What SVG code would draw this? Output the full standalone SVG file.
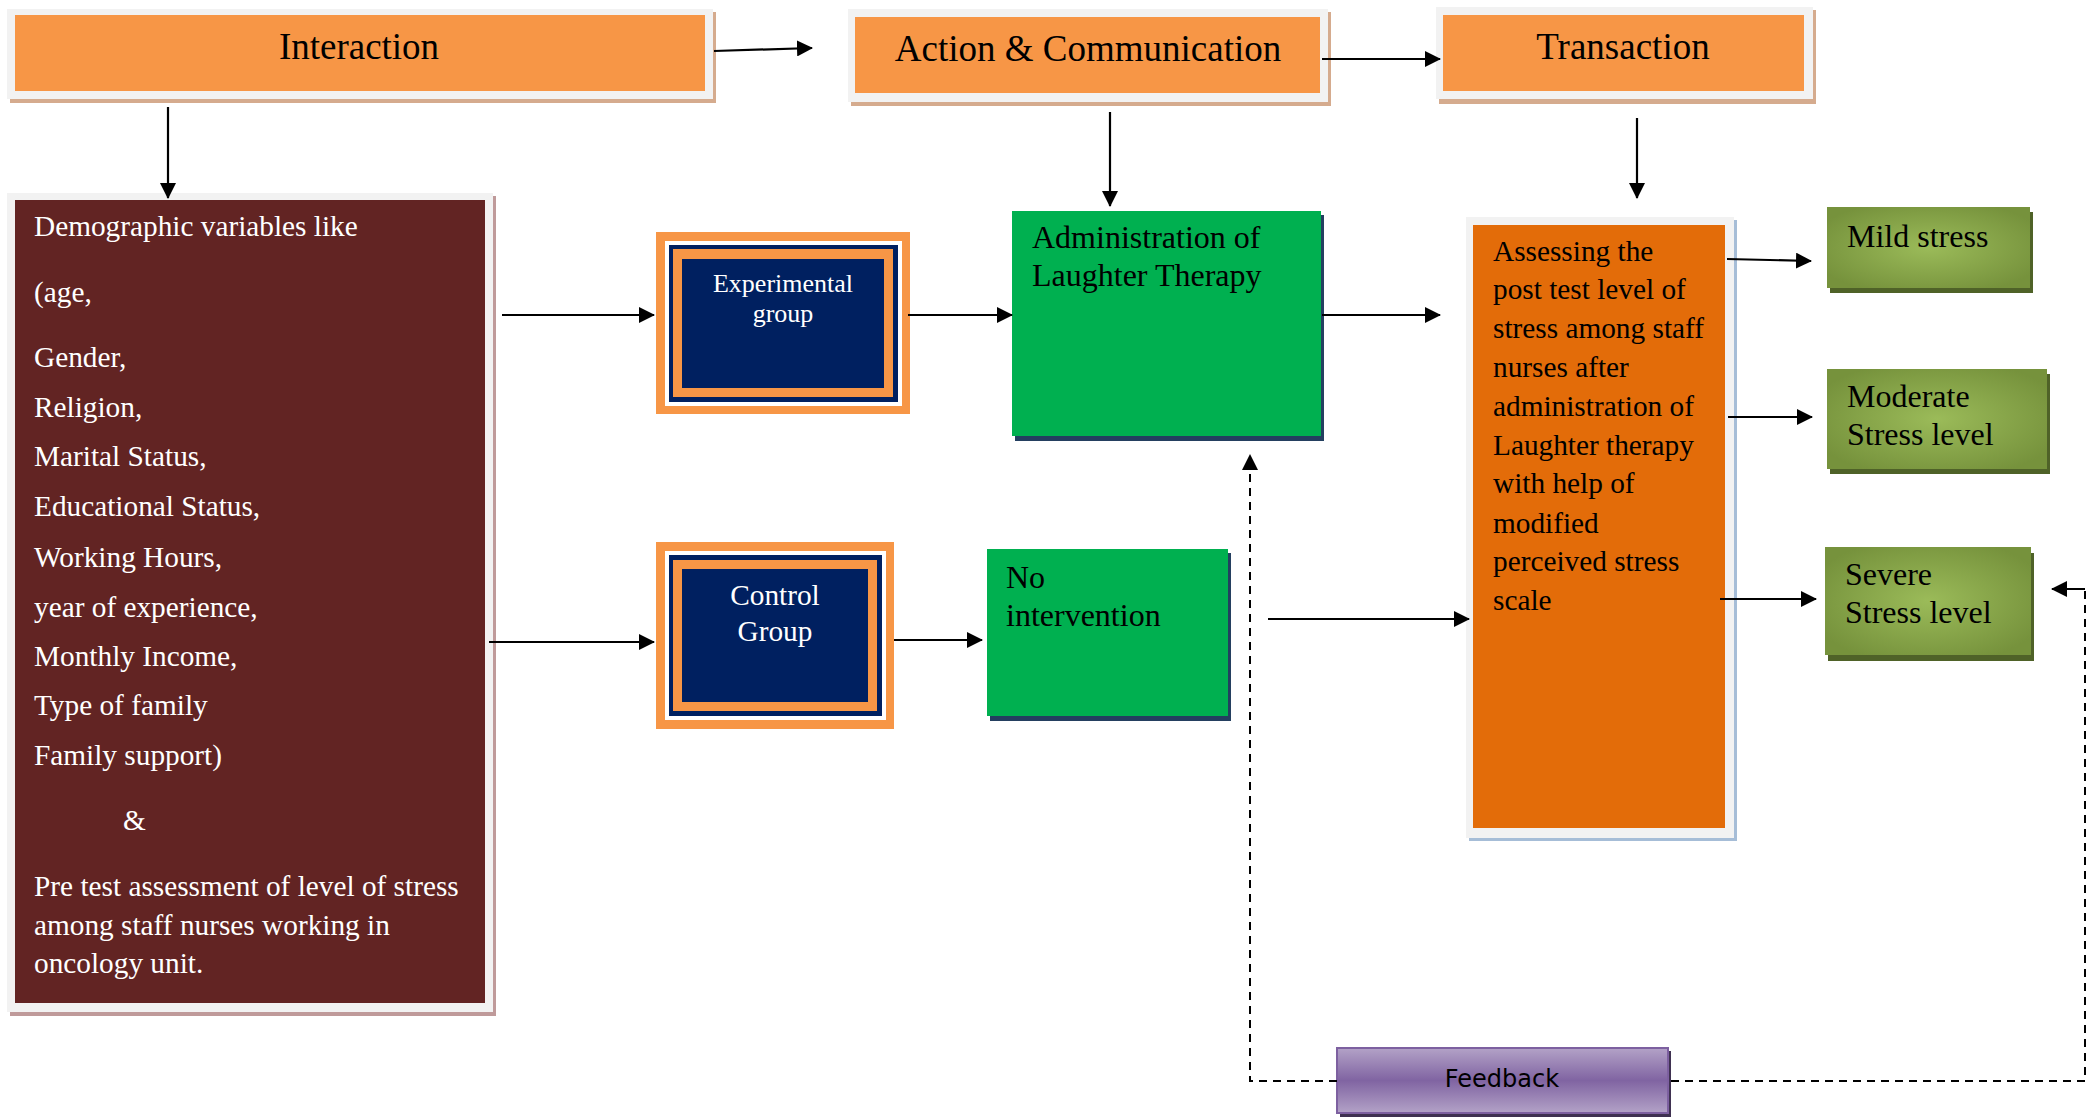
<svg xmlns="http://www.w3.org/2000/svg" width="2094" height="1117" viewBox="0 0 2094 1117">
<style>
.hdr{font-family:"Liberation Serif",serif;font-size:37px;fill:#000}
.wt{font-family:"Liberation Serif",serif;font-size:29.3px;fill:#fff}
.bk{font-family:"Liberation Serif",serif;font-size:32px;fill:#000}
.bk29{font-family:"Liberation Serif",serif;font-size:29.3px;fill:#000}
.frame{fill:#f2f2f2}
.orange{fill:#f79646}
.navy{fill:#002060}
.conn{stroke:#000;stroke-width:2.2;fill:none}
.dash{stroke:#000;stroke-width:2;fill:none;stroke-dasharray:8 6}
</style>
<defs>
<marker id="arr" viewBox="0 0 16 16" refX="15" refY="8" markerWidth="16" markerHeight="16" markerUnits="userSpaceOnUse" orient="auto">
<path d="M0,0 L16,8 L0,16 z" fill="#000"/>
</marker>
<radialGradient id="grn" cx="0.5" cy="0.5" r="0.6">
<stop offset="0" stop-color="#9bbb59"/>
<stop offset="1" stop-color="#76923c"/>
</radialGradient>
<linearGradient id="pur" x1="0" y1="0" x2="0" y2="1">
<stop offset="0" stop-color="#b3a2c7"/>
<stop offset="0.5" stop-color="#8064a2"/>
<stop offset="1" stop-color="#b3a2c7"/>
</linearGradient>
</defs>

<g id="interaction">
<rect x="10" y="12" width="706" height="91" fill="#d5ab8e"/>
<rect class="frame" x="7" y="9" width="706" height="90"/>
<rect class="orange" x="15" y="15" width="690" height="76"/>
<text class="hdr" x="359" y="59" text-anchor="middle">Interaction</text>
</g>

<g id="action">
<rect x="851" y="12" width="480" height="94" fill="#d5ab8e"/>
<rect class="frame" x="848" y="9" width="480" height="93"/>
<rect class="orange" x="855" y="17" width="465" height="76"/>
<text class="hdr" x="1088" y="61" text-anchor="middle">Action &amp; Communication</text>
</g>

<g id="transaction">
<rect x="1439" y="10" width="377" height="94" fill="#d5ab8e"/>
<rect class="frame" x="1436" y="7" width="377" height="92"/>
<rect class="orange" x="1443" y="15" width="361" height="76"/>
<text class="hdr" x="1623" y="59" text-anchor="middle">Transaction</text>
</g>

<g id="demographic">
<rect x="10" y="196" width="486" height="820" fill="#bf9a9a"/>
<rect class="frame" x="7" y="193" width="486" height="819"/>
<rect x="15" y="200" width="470" height="803" fill="#622423"/>
<text class="wt" x="34" y="236">Demographic variables like</text>
<text class="wt" x="34" y="302">(age,</text>
<text class="wt" x="34" y="367">Gender,</text>
<text class="wt" x="34" y="417">Religion,</text>
<text class="wt" x="34" y="466">Marital Status,</text>
<text class="wt" x="34" y="516">Educational Status,</text>
<text class="wt" x="34" y="567">Working Hours,</text>
<text class="wt" x="34" y="617">year of experience,</text>
<text class="wt" x="34" y="666">Monthly Income,</text>
<text class="wt" x="34" y="715">Type of family</text>
<text class="wt" x="34" y="765">Family support)</text>
<text class="wt" x="123" y="830">&amp;</text>
<text class="wt" x="34" y="896">Pre test assessment of level of stress</text>
<text class="wt" x="34" y="935">among staff nurses working in</text>
<text class="wt" x="34" y="973">oncology unit.</text>
</g>

<g id="experimental">
<rect class="orange" x="656" y="232" width="254" height="182"/>
<rect fill="#fff" x="665" y="241" width="237" height="165"/>
<rect class="navy" x="669" y="245" width="229" height="157"/>
<rect class="orange" x="673" y="249" width="220" height="148"/>
<rect class="navy" x="682" y="259" width="202" height="129"/>
<text class="wt" x="783" y="292" text-anchor="middle" style="font-size:26px">Experimental</text>
<text class="wt" x="783" y="322" text-anchor="middle" style="font-size:26px">group</text>
</g>

<g id="control">
<rect class="orange" x="656" y="542" width="238" height="187"/>
<rect fill="#fff" x="665" y="551" width="221" height="169"/>
<rect class="navy" x="669" y="555" width="213" height="161"/>
<rect class="orange" x="673" y="560" width="204" height="151"/>
<rect class="navy" x="682" y="569" width="186" height="133"/>
<text class="wt" x="775" y="605" text-anchor="middle">Control</text>
<text class="wt" x="775" y="641" text-anchor="middle">Group</text>
</g>

<g id="administration">
<rect x="1015" y="215" width="309" height="226" fill="#243f60"/>
<rect x="1012" y="211" width="309" height="225" fill="#00b050"/>
<text class="bk" x="1032" y="248">Administration of</text>
<text class="bk" x="1032" y="286">Laughter Therapy</text>
</g>

<g id="nointervention">
<rect x="990" y="553" width="241" height="168" fill="#243f60"/>
<rect x="987" y="549" width="241" height="167" fill="#00b050"/>
<text class="bk" x="1006" y="588">No</text>
<text class="bk" x="1006" y="626">intervention</text>
</g>

<g id="assessing">
<rect x="1469" y="220" width="268" height="621" fill="#a6bdd7"/>
<rect class="frame" x="1466" y="217" width="268" height="621"/>
<rect x="1473" y="225" width="252" height="603" fill="#e36c09"/>
<text class="bk29" x="1493" y="261">Assessing the</text>
<text class="bk29" x="1493" y="299">post test level of</text>
<text class="bk29" x="1493" y="338">stress among staff</text>
<text class="bk29" x="1493" y="377">nurses after</text>
<text class="bk29" x="1493" y="416">administration of</text>
<text class="bk29" x="1493" y="455">Laughter therapy</text>
<text class="bk29" x="1493" y="493">with help of</text>
<text class="bk29" x="1493" y="533">modified</text>
<text class="bk29" x="1493" y="571">perceived stress</text>
<text class="bk29" x="1493" y="610">scale</text>
</g>

<g id="mild">
<rect x="1830" y="212" width="203" height="81" fill="#4f6228"/>
<rect x="1827" y="207" width="203" height="81" fill="url(#grn)"/>
<text class="bk" x="1847" y="247">Mild stress</text>
</g>

<g id="moderate">
<rect x="1830" y="374" width="220" height="100" fill="#4f6228"/>
<rect x="1827" y="369" width="220" height="100" fill="url(#grn)"/>
<text class="bk" x="1847" y="407">Moderate</text>
<text class="bk" x="1847" y="445">Stress level</text>
</g>

<g id="severe">
<rect x="1828" y="553" width="206" height="108" fill="#4f6228"/>
<rect x="1825" y="547" width="206" height="108" fill="url(#grn)"/>
<text class="bk" x="1845" y="585">Severe</text>
<text class="bk" x="1845" y="623">Stress level</text>
</g>

<g id="feedback">
<rect x="1340" y="1051" width="331" height="66" fill="#3f3151"/>
<rect x="1337" y="1048" width="331" height="65" fill="url(#pur)" stroke="#7d60a0" stroke-width="2"/>
<text x="1502" y="1087" text-anchor="middle" style="font-family:'DejaVu Sans',sans-serif;font-size:24px;fill:#000">Feedback</text>
</g>

<g id="connectors">
<path class="conn" d="M714,51 L812,48" marker-end="url(#arr)"/>
<path class="conn" d="M1322,59 L1440,59" marker-end="url(#arr)"/>
<path class="conn" d="M168,107 L168,198" marker-end="url(#arr)"/>
<path class="conn" d="M1110,112 L1110,206" marker-end="url(#arr)"/>
<path class="conn" d="M1637,118 L1637,198" marker-end="url(#arr)"/>
<path class="conn" d="M502,315 L654,315" marker-end="url(#arr)"/>
<path class="conn" d="M489,642 L654,642" marker-end="url(#arr)"/>
<path class="conn" d="M908,315 L1012,315" marker-end="url(#arr)"/>
<path class="conn" d="M894,640 L982,640" marker-end="url(#arr)"/>
<path class="conn" d="M1322,315 L1440,315" marker-end="url(#arr)"/>
<path class="conn" d="M1268,619 L1469,619" marker-end="url(#arr)"/>
<path class="conn" d="M1727,259 L1811,261" marker-end="url(#arr)"/>
<path class="conn" d="M1728,417 L1812,417" marker-end="url(#arr)"/>
<path class="conn" d="M1720,599 L1816,599" marker-end="url(#arr)"/>
<path class="dash" d="M1337,1081 L1250,1081 L1250,455" marker-end="url(#arr)"/>
<path class="dash" d="M1671,1081 L2085,1081 L2085,589"/>
<path class="conn" d="M2085,589 L2052,589" marker-end="url(#arr)"/>
</g>
</svg>
